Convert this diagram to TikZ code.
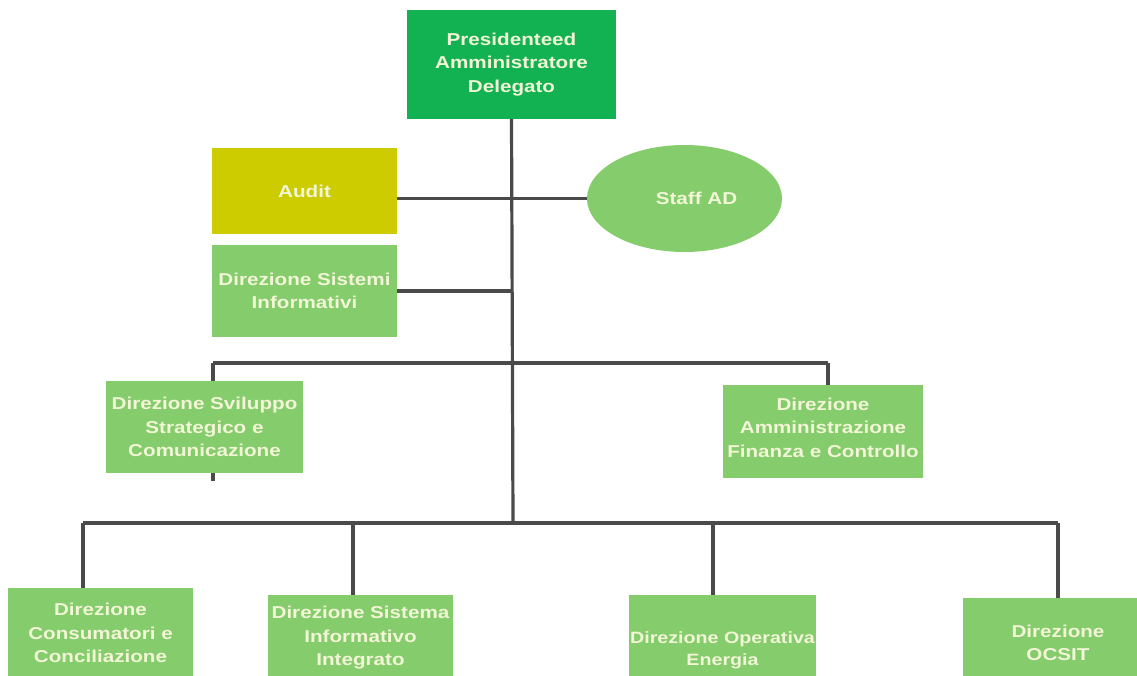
\documentclass[tikz,border=0pt]{standalone}
\usepackage{fontspec}
\setmainfont[FakeStretch=1.2]{Liberation Sans}
\usetikzlibrary{shapes.geometric,backgrounds}
\definecolor{topgreen}{HTML}{12B152}
\definecolor{lightgreen}{HTML}{84CC6C}
\definecolor{auditcol}{HTML}{CCCC00}
\definecolor{txtcol}{HTML}{F2F5D6}
\definecolor{linecol}{HTML}{4A4A4A}
\begin{document}
\begin{tikzpicture}[x=1pt,y=-1pt,
  box/.style={rectangle,fill=lightgreen,draw=none,inner sep=0pt,align=center,
    text=txtcol,font=\fontsize{17.2}{23.5}\selectfont\bfseries},
  conn/.style={draw=linecol,line width=3.2pt}]
\useasboundingbox (0,0) rectangle (1137,675);
\clip (0,0) rectangle (1137,675);
% nodes
\node[box,fill=topgreen,minimum width=209pt,minimum height=109pt] (pres) at (511.5,64.5) {Presidenteed\\Amministratore\\Delegato};
\node[box,fill=auditcol,minimum width=185pt,minimum height=86pt] (audit) at (304.5,191) {Audit};
\node[box,ellipse,minimum width=195pt,minimum height=107pt] (staff) at (684.5,198.5) {\kern24pt Staff AD};
\node[box,minimum width=185pt,minimum height=92pt] (dsi) at (304.5,291) {Direzione Sistemi\\Informativi};
\node[box,minimum width=197pt,minimum height=92pt] (svil) at (204.5,427) {Direzione Sviluppo\\Strategico e\\Comunicazione};
\node[box,minimum width=200pt,minimum height=93pt] (afc) at (823,431.5) {Direzione\\Amministrazione\\Finanza e Controllo\\[-16pt]\mbox{}};
\node[box,minimum width=185pt,minimum height=90pt] (cons) at (100.5,633) {Direzione\\Consumatori e\\Conciliazione};
\node[box,minimum width=185pt,minimum height=86pt] (sii) at (360.5,638) {Direzione Sistema\\Informativo\\Integrato};
\node[box,minimum width=187pt,minimum height=110pt,font=\fontsize{16.4}{22}\selectfont\bfseries] (oper) at (722.5,650) {Direzione Operativa\\Energia};
\node[box,minimum width=190pt,minimum height=90pt] (ocsit) at (1058,643) {Direzione\\OCSIT};
% bus coordinates
\coordinate (trunk) at (513,523);
\coordinate (m1) at (213,363);
\coordinate (m2) at (828,363);
\coordinate (b1) at (83,523);
\coordinate (b2) at (353,523);
\coordinate (b3) at (713,523);
\coordinate (b4) at (1058,523);
\begin{scope}[on background layer]
\draw[conn] (pres.south) -- (trunk);
\draw[conn] (audit.east |- staff.west) -- (staff.west);
\draw[conn] (dsi.east) -- (dsi.east -| trunk);
\draw[conn] (m1) -- (m2);
\draw[conn] (m1) -- ([yshift=-8pt]m1 |- svil.south);
\draw[conn] (m2) -- (m2 |- afc.north);
\draw[conn] (b1) -- (b4);
\draw[conn] (b1) -- (b1 |- cons.north);
\draw[conn] (b2) -- (b2 |- sii.north);
\draw[conn] (b3) -- (b3 |- oper.north);
\draw[conn] (b4) -- (b4 |- ocsit.north);
\end{scope}
\end{tikzpicture}
\end{document}
